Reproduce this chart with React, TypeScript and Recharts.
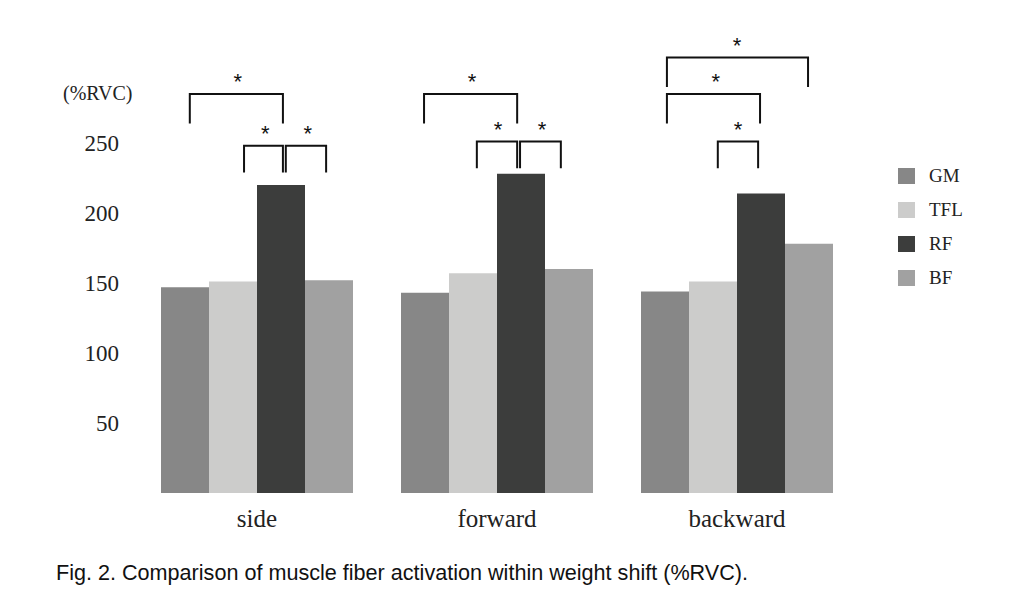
import { BarChart, Bar, XAxis, YAxis, Rectangle } from "recharts"

const groups = ["side", "forward", "backward"]
const gm = [147, 143, 144]
const tfl = [151, 157, 151]
const rf = [220, 228, 214]
const bf = [152, 160, 178]
const yTicks = [50, 100, 150, 200, 250]

// significance brackets per group; x in bar slots (GM=1 .. BF=4), y in %RVC: [x1, x2, top, bottom]
const brackets = [
  [[1.1, 3.04, 285, 264], [2.23, 3.04, 248, 229], [3.1, 3.94, 248, 229]],
  [[0.98, 2.92, 285, 264], [2.08, 2.92, 251, 232], [2.98, 3.83, 251, 232]],
  [[1.04, 3.98, 311, 290], [1.04, 2.98, 285, 264], [2.1, 2.94, 251, 232]],
]
// asterisks per group: [x, y]
const stars = [
  [[2.1, 297], [2.67, 260], [3.56, 260]],
  [[1.98, 297], [2.52, 263], [3.44, 263]],
  [[2.5, 323], [2.06, 297], [2.52, 263]],
]

const series = [
  { key: "GM", color: "#878787" },
  { key: "TFL", color: "#cccccb" },
  { key: "RF", color: "#3c3d3c" },
  { key: "BF", color: "#a1a1a1" },
]

const data = groups.map((name, i) => ({
  name,
  GM: gm[i],
  TFL: tfl[i],
  RF: rf[i],
  BF: bf[i],
}))

const serif = "'Liberation Serif', 'DejaVu Serif', serif"

// RF bar plus the significance marks of its group, placed from the bar's own geometry
const RfShape = (props: any) => {
  const { x, y, width, height, index } = props
  const perUnit = height / rf[index]
  const base = y + height
  const px = (s: number) => x + width / 2 + (s - 3) * width
  const py = (v: number) => base - v * perUnit
  return (
    <g>
      <Rectangle {...props} />
      {brackets[index].map(([x1, x2, top, bottom], i) => (
        <path
          key={`b${i}`}
          d={`M${px(x1)},${py(bottom)}V${py(top)}H${px(x2)}V${py(bottom)}`}
          fill="none"
          stroke="#111"
          strokeWidth={2}
        />
      ))}
      {stars[index].map(([sx, sy], i) => (
        <text
          key={`s${i}`}
          x={px(sx)}
          y={py(sy) + 12}
          textAnchor="middle"
          fontSize={22}
          fontFamily="'Liberation Sans', sans-serif"
          fill="#111"
        >
          *
        </text>
      ))}
    </g>
  )
}

export default function App() {
  return (
    <div style={{ position: "absolute", left: 0, top: 0, width: 1018, height: 613, background: "#fff" }}>
      <BarChart
        width={1018}
        height={613}
        data={data}
        margin={{ top: 3, right: 161, left: 0, bottom: 80 }}
        barCategoryGap="10%"
        barGap={0}
      >
        <XAxis
          dataKey="name"
          axisLine={false}
          tickLine={false}
          height={40}
          tickMargin={10}
          tick={{ fontSize: 25, fontFamily: serif, fill: "#222" }}
        />
        <YAxis
          width={137}
          domain={[0, 350]}
          ticks={yTicks}
          axisLine={false}
          tickLine={false}
          tickMargin={12}
          tick={{ fontSize: 23, fontFamily: serif, fill: "#222" }}
        />
        {series.map((s) => (
          <Bar
            key={s.key}
            dataKey={s.key}
            fill={s.color}
            isAnimationActive={false}
            shape={s.key === "RF" ? RfShape : undefined}
          />
        ))}
      </BarChart>
      <div style={{ position: "absolute", left: 63, top: 82, fontSize: 20, fontFamily: serif, color: "#222" }}>(%RVC)</div>
      <div style={{ position: "absolute", left: 898, top: 159 }}>
        {series.map((s) => (
          <div key={s.key} style={{ display: "flex", alignItems: "center", height: 34 }}>
            <div style={{ width: 17, height: 16, background: s.color }} />
            <span style={{ marginLeft: 14, fontSize: 19, fontFamily: serif, color: "#222" }}>{s.key}</span>
          </div>
        ))}
      </div>
      <svg style={{ position: "absolute", left: 0, top: 0 }} width={1018} height={613} pointerEvents="none">
        <text
          x={56}
          y={580}
          fontSize={22}
          fontFamily="'Liberation Sans', Arial, sans-serif"
          fill="#111"
          textLength={692}
          lengthAdjust="spacingAndGlyphs"
        >
          Fig. 2. Comparison of muscle fiber activation within weight shift (%RVC).
        </text>
      </svg>
    </div>
  )
}
